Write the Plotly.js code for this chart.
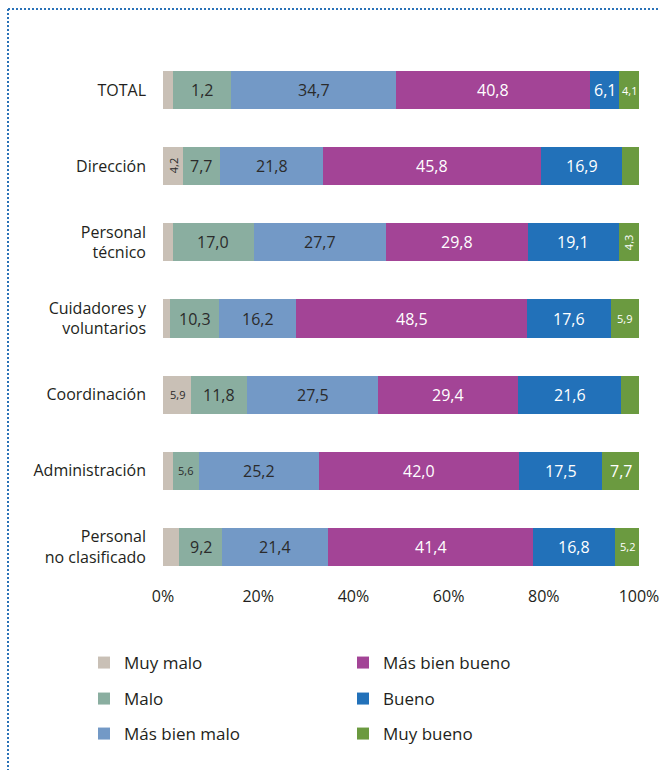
<!DOCTYPE html>
<html>
<head>
<meta charset="utf-8">
<script src="https://cdn.plot.ly/plotly-3.0.1.min.js"></script>
<style>html,body{margin:0;padding:0;background:#fff;}#chart{width:660px;height:770px;}</style>
</head>
<body>
<div id="chart"></div>
<script>
// ---- data ----
const categories = ['TOTAL', 'Dirección', 'Personal<br>técnico', 'Cuidadores y<br>voluntarios', 'Coordinación', 'Administración', 'Personal<br>no clasificado'];
const seriesNames = ['Muy malo', 'Malo', 'Más bien malo', 'Más bien bueno', 'Bueno', 'Muy bueno'];

const muyMalo      = [2.1, 4.2, 2.1, 1.5, 5.9, 2.0, 3.4];
const malo         = [12.2, 7.7, 17.0, 10.3, 11.8, 5.6, 9.0];
const masBienMalo  = [34.7, 21.8, 27.7, 16.2, 27.5, 25.2, 22.3];
const masBienBueno = [40.8, 45.8, 29.8, 48.5, 29.4, 42.0, 43.1];
const bueno        = [6.1, 16.9, 19.1, 17.6, 21.6, 17.5, 17.2];
const muyBueno     = [4.1, 3.6, 4.3, 5.9, 3.8, 7.7, 5.0];

const lblMuyMalo      = ['', '4,2', '', '', '5,9', '', ''];
const lblMalo         = ['1,2', '7,7', '17,0', '10,3', '11,8', '5,6', '9,2'];
const lblMasBienMalo  = ['34,7', '21,8', '27,7', '16,2', '27,5', '25,2', '21,4'];
const lblMasBienBueno = ['40,8', '45,8', '29,8', '48,5', '29,4', '42,0', '41,4'];
const lblBueno        = ['6,1', '16,9', '19,1', '17,6', '21,6', '17,5', '16,8'];
const lblMuyBueno     = ['4,1', '', '4,3', '5,9', '', '7,7', '5,2'];

const xTickVals = [0, 20, 40, 60, 80, 100];
const xTickText = ['0%', '20%', '40%', '60%', '80%', '100%'];

// ---- style ----
const values = [muyMalo, malo, masBienMalo, masBienBueno, bueno, muyBueno];
const labels = [lblMuyMalo, lblMalo, lblMasBienMalo, lblMasBienBueno, lblBueno, lblMuyBueno];
const colors = ['#c9c0b6', '#8aaea0', '#7399c6', '#a34496', '#2271b9', '#6b9a40'];
const textColors = ['#2b2b2b', '#2b2b2b', '#2b2b2b', '#ffffff', '#ffffff', '#ffffff'];
const legendIds = ['legend', 'legend2', 'legend3', 'legend4', 'legend5', 'legend6'];
// legend slot positions (pixels): text start x, row centre y
const legendPos = [[124, 663], [124, 699], [124, 734], [383, 663], [383, 699], [383, 734]];
const rotated = {'Dirección|Muy malo': true, 'Personal<br>técnico|Muy bueno': true};
const FONT = 'Open Sans, Noto Sans, sans-serif';

const W = 660, H = 770;
const M = {l: 163, r: 21, t: 52, b: 185};
const pw = W - M.l - M.r, ph = H - M.t - M.b;
const px2x = px => (px - M.l) / pw;
const py2y = py => (H - M.b - py) / ph;

const traces = seriesNames.map((name, s) => ({
  type: 'bar', orientation: 'h', name: name,
  y: categories, x: values[s],
  marker: {color: colors[s], line: {width: 0}},
  legend: legendIds[s],
  hoverinfo: 'none'
}));

const annotations = [];
categories.forEach((cat, c) => {
  let cum = 0;
  seriesNames.forEach((name, s) => {
    const v = values[s][c];
    const t = labels[s][c];
    if (t) {
      const small = v < 6;
      annotations.push({
        x: cum + v / 2, y: cat, xref: 'x', yref: 'y',
        text: t, showarrow: false,
        textangle: rotated[cat + '|' + name] ? -90 : 0,
        font: {family: FONT, size: small ? 11 : 16, color: textColors[s]}
      });
    }
    cum += v;
  });
});

const borderColor = '#2a72b8';
const layout = {
  width: W, height: H,
  margin: M,
  paper_bgcolor: '#fff', plot_bgcolor: '#fff',
  barmode: 'stack', bargap: 0.5,
  font: {family: FONT, size: 16, color: '#231f20'},
  xaxis: {
    range: [0, 100], tickvals: xTickVals, ticktext: xTickText,
    showgrid: false, zeroline: false, showline: false, ticks: '',
    tickfont: {size: 16, color: '#231f20'}, fixedrange: true
  },
  yaxis: {
    type: 'category', categoryorder: 'array', categoryarray: categories,
    range: [categories.length - 0.5, -0.5],
    showgrid: false, zeroline: false, showline: false, ticks: '',
    ticklabelstandoff: 16,
    tickfont: {size: 16, color: '#231f20'}, fixedrange: true
  },
  showlegend: true,
  annotations: annotations,
  shapes: [
    {type: 'line', xref: 'paper', yref: 'paper', x0: px2x(8), x1: px2x(662), y0: py2y(9), y1: py2y(9),
     line: {color: borderColor, width: 2, dash: '2px,2px'}},
    {type: 'line', xref: 'paper', yref: 'paper', x0: px2x(8), x1: px2x(8), y0: py2y(9), y1: py2y(772),
     line: {color: borderColor, width: 2, dash: '2px,2px'}}
  ]
};
legendIds.forEach((id, i) => {
  layout[id] = {
    orientation: 'h', xref: 'container', yref: 'container',
    x: (legendPos[i][0] - 40) / W, y: (H - legendPos[i][1]) / H,
    xanchor: 'left', yanchor: 'middle',
    bgcolor: 'rgba(0,0,0,0)', borderwidth: 0,
    font: {family: FONT, size: 17, color: '#231f20'}
  };
});

Plotly.newPlot('chart', traces, layout, {displayModeBar: false, staticPlot: true});
</script>
</body>
</html>
